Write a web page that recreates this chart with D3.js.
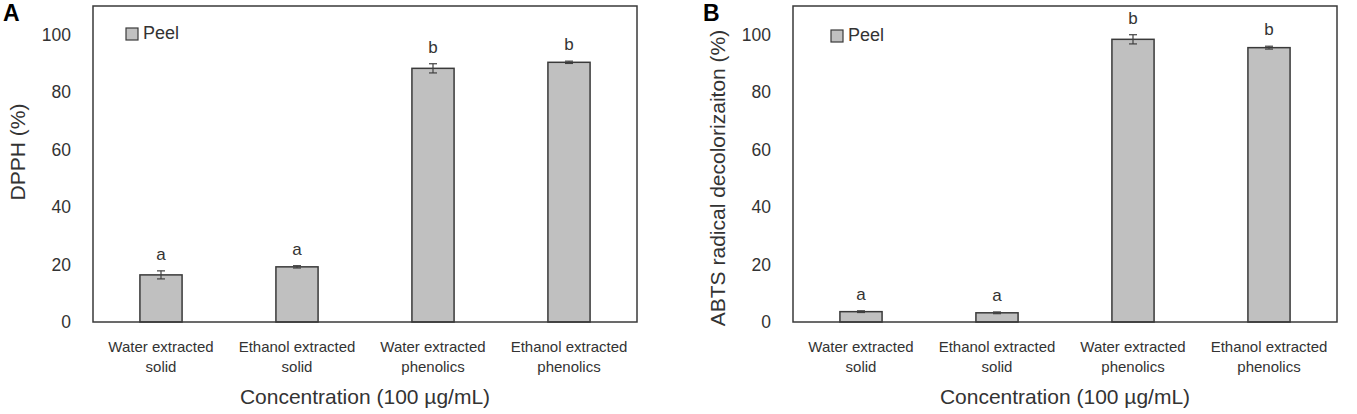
<!DOCTYPE html>
<html>
<head>
<meta charset="utf-8">
<script src="https://cdn.jsdelivr.net/npm/d3@7"></script>
<style>
  body { margin: 0; background: #fff; }
  text { font-family: "Liberation Sans", Arial, sans-serif; fill: #333; }
</style>
</head>
<body>
<div id="chart"></div>
<script>
// categories and values
var categories = ["Water extracted|solid", "Ethanol extracted|solid",
                  "Water extracted|phenolics", "Ethanol extracted|phenolics"];
var yTicks = [0, 20, 40, 60, 80, 100];

var dpphValues = [16.4, 19.2, 88.3, 90.4];
var dpphErrors = [1.4, 0.4, 1.6, 0.4];
var dpphLetters = ["a", "a", "b", "b"];

var abtsValues = [3.6, 3.2, 98.4, 95.5];
var abtsErrors = [0.3, 0.3, 1.6, 0.5];
var abtsLetters = ["a", "a", "b", "b"];

var svg = d3.select("#chart").append("svg")
    .attr("width", 1357)
    .attr("height", 414);

function drawPanel(p) {
    var top = 6, bottom = 322, width = 544;

    var xScale = d3.scaleBand()
        .domain(categories)
        .range([0, width])
        .paddingInner(0.69)
        .paddingOuter(0.345);

    var yScale = d3.scaleLinear()
        .domain([0, 110])
        .range([bottom - top, 0]);

    var g = svg.append("g")
        .attr("transform", "translate(" + p.left + "," + top + ")");

    // y axis labels (no tick marks)
    var yAxis = d3.axisLeft(yScale).tickValues(yTicks).tickSize(0).tickPadding(22);
    g.append("g").call(yAxis)
        .call(function (s) { s.select(".domain").remove(); })
        .selectAll("text")
        .style("font-size", "17.5px")
        .attr("fill", "#333");

    // category labels, two lines each
    var xAxis = d3.axisBottom(xScale).tickSize(0).tickFormat("");
    var xg = g.append("g")
        .attr("transform", "translate(0," + (bottom - top) + ")")
        .call(xAxis);
    xg.select(".domain").remove();
    xg.selectAll(".tick").append("text")
        .attr("text-anchor", "middle")
        .style("font-size", "15px")
        .selectAll("tspan")
        .data(function (d) { return d.split("|"); })
        .enter().append("tspan")
        .attr("x", 0)
        .attr("y", function (d, i) { return 30 + i * 20; })
        .text(function (d) { return d; });

    // bars
    g.selectAll(".bar")
        .data(p.values)
        .enter().append("rect")
        .attr("class", "bar")
        .attr("x", function (d, i) { return xScale(categories[i]); })
        .attr("width", xScale.bandwidth())
        .attr("y", function (d) { return yScale(d); })
        .attr("height", function (d) { return yScale(0) - yScale(d); })
        .style("fill", "#c0c0c0")
        .style("stroke", "#3a3a3a")
        .style("stroke-width", 1.5);

    // error bars
    var err = g.selectAll(".err")
        .data(p.values)
        .enter().append("g")
        .attr("class", "err")
        .attr("transform", function (d, i) {
            return "translate(" + (xScale(categories[i]) + xScale.bandwidth() / 2) + ",0)";
        });
    err.append("line")
        .attr("y1", function (d, i) { return yScale(d + p.errors[i]); })
        .attr("y2", function (d, i) { return yScale(d - p.errors[i]); });
    err.append("line")
        .attr("x1", -4).attr("x2", 4)
        .attr("y1", function (d, i) { return yScale(d + p.errors[i]); })
        .attr("y2", function (d, i) { return yScale(d + p.errors[i]); });
    err.append("line")
        .attr("x1", -4).attr("x2", 4)
        .attr("y1", function (d, i) { return yScale(d - p.errors[i]); })
        .attr("y2", function (d, i) { return yScale(d - p.errors[i]); });
    err.selectAll("line").style("stroke", "#404040").style("stroke-width", 1.2);

    // significance letters
    g.selectAll(".letter")
        .data(p.values)
        .enter().append("text")
        .attr("class", "letter")
        .attr("text-anchor", "middle")
        .attr("x", function (d, i) { return xScale(categories[i]) + xScale.bandwidth() / 2; })
        .attr("y", function (d, i) { return yScale(d + p.errors[i]) - 11; })
        .style("font-size", "17px")
        .text(function (d, i) { return p.letters[i]; });

    // frame
    g.append("rect")
        .attr("width", width)
        .attr("height", bottom - top)
        .style("fill", "none")
        .style("stroke", "#3a3a3a")
        .style("stroke-width", 1.5);

    // legend
    var lg = g.append("g").attr("transform", "translate(" + p.legendX + "," + p.legendY + ")");
    lg.append("rect")
        .attr("width", 12).attr("height", 12)
        .style("fill", "#c0c0c0")
        .style("stroke", "#3a3a3a")
        .style("stroke-width", 1.2);
    lg.append("text")
        .attr("x", 17).attr("y", 11)
        .style("font-size", "18px")
        .text("Peel");

    // axis titles
    g.append("text")
        .attr("text-anchor", "middle")
        .attr("x", width / 2)
        .attr("y", 404 - top)
        .style("font-size", "21px")
        .text("Concentration (100 µg/mL)");

    svg.append("text")
        .attr("text-anchor", "middle")
        .attr("transform", "translate(" + p.yTitleX + "," + p.yTitleY + ") rotate(-90)")
        .attr("dy", "0.35em")
        .style("font-size", "21px")
        .text(p.yTitle);

    // panel letter
    svg.append("text")
        .attr("x", p.tagX)
        .attr("y", 21)
        .style("font-size", "23px")
        .style("font-weight", "bold")
        .attr("fill", "#000")
        .style("fill", "#000")
        .text(p.tag);
}

drawPanel({
    left: 93, values: dpphValues, errors: dpphErrors, letters: dpphLetters,
    yTitle: "DPPH (%)", yTitleX: 18, yTitleY: 152,
    legendX: 33, legendY: 22, tag: "A", tagX: 3
});

drawPanel({
    left: 793, values: abtsValues, errors: abtsErrors, letters: abtsLetters,
    yTitle: "ABTS radical decolorizaiton (%)", yTitleX: 718, yTitleY: 178,
    legendX: 38, legendY: 24, tag: "B", tagX: 703
});
</script>
</body>
</html>
